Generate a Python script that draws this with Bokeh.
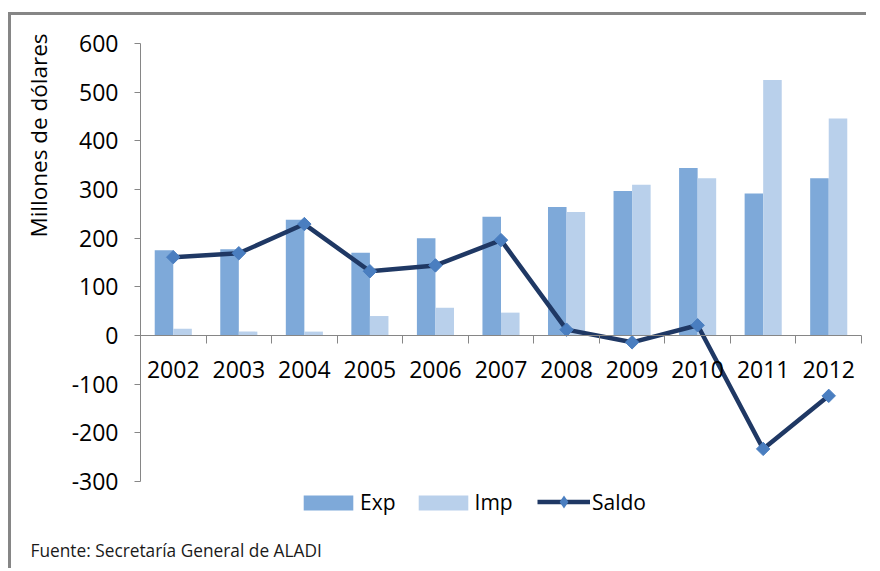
import numpy as np
from bokeh.plotting import figure
from bokeh.models import (Range1d, LinearAxis, FixedTicker, Legend, LegendItem,
                          Label, ColumnDataSource)
from bokeh.transform import dodge
from bokeh.embed import file_html
from bokeh.resources import INLINE

years = ["2002", "2003", "2004", "2005", "2006", "2007", "2008", "2009", "2010", "2011", "2012"]
exp_vals = [175, 177, 238, 170, 200, 244, 264, 297, 344, 292, 323]
imp_vals = [14, 8, 8, 40, 57, 47, 254, 310, 323, 525, 446]
saldo_vals = [161, 169, 229, 132, 144, 196, 12, -14, 21, -233, -124]
y_ticks = [-300, -200, -100, 0, 100, 200, 300, 400, 500, 600]

FONT = "Open Sans"
EXP_COLOR = "#7EA9D9"
IMP_COLOR = "#B9D0EB"
LINE_COLOR = "#1F3864"
MARK_COLOR = "#4A7EC0"
AXIS_COLOR = "#868686"

n = len(years)
centers = np.arange(n) + 0.5
src = ColumnDataSource(dict(x=centers, year=years, exp=exp_vals, imp=imp_vals, saldo=saldo_vals))

# layout (canvas pixels): plot area from x=129..850, y(600)=28 .. y(-300)=466
W, H = 858, 556
AX_L, AX_R, AX_T, AX_B = 129, 850, 28, 466
ux = (AX_R - AX_L) / n
uy = (AX_B - AX_T) / (y_ticks[-1] - y_ticks[0])
x_range = Range1d(-AX_L / ux, n + (W - AX_R) / ux)
y_range = Range1d(y_ticks[0] - (H - AX_B) / uy, y_ticks[-1] + AX_T / uy)

p = figure(width=W, height=H, x_range=x_range, y_range=y_range,
           output_backend="svg", toolbar_location=None,
           min_border_left=0, min_border_right=0, min_border_top=0, min_border_bottom=0)
p.styles = {"border-left": "3px solid #868686", "border-top": "3px solid #868686",
            "margin-top": "12px", "margin-left": "8px"}
p.outline_line_color = None
p.xgrid.grid_line_color = None
p.ygrid.grid_line_color = None

bw = 0.283
r_exp = p.vbar(x=dodge("x", -bw / 2), top="exp", width=bw, source=src,
               fill_color=EXP_COLOR, line_color=None)
r_imp = p.vbar(x=dodge("x", bw / 2), top="imp", width=bw, source=src,
               fill_color=IMP_COLOR, line_color=None)
r_line = p.line(x="x", y="saldo", source=src, line_color=LINE_COLOR, line_width=4.5)
# diamond (used for the legend swatch), covered exactly by the rotated squares
r_dia = p.scatter(x="x", y="saldo", source=src, marker="diamond", size=12,
                  fill_color=MARK_COLOR, line_color=None)
r_pts = p.scatter(x="x", y="saldo", source=src, marker="square", angle=np.pi / 4, size=9.5,
                  fill_color=MARK_COLOR, line_color=MARK_COLOR)

# y axis, fixed at x = 0
yax = p.yaxis[0]
yax.fixed_location = 0
yax.bounds = (y_ticks[0], y_ticks[-1])
yax.ticker = FixedTicker(ticks=y_ticks)
yax.major_label_overrides = {t: str(t) for t in y_ticks}
yax.axis_line_color = AXIS_COLOR
yax.major_tick_line_color = AXIS_COLOR
yax.major_tick_out = 6
yax.major_tick_in = 0
yax.minor_tick_line_color = None
yax.major_label_standoff = 16
yax.major_label_text_font = FONT
yax.major_label_text_font_size = "23px"
yax.major_label_text_color = "black"

# x axis with year labels at category centres, drawn at zero
xax = p.xaxis[0]
xax.ticker = FixedTicker(ticks=list(centers))
xax.major_label_overrides = {float(c): y for c, y in zip(centers, years)}
xax.fixed_location = 0
xax.axis_line_color = None
xax.major_tick_line_color = None
xax.minor_tick_line_color = None
xax.major_tick_out = 0
xax.major_label_standoff = 25
xax.major_label_text_font = FONT
xax.major_label_text_font_size = "23px"
xax.major_label_text_color = "black"

# tick marks between categories, also at zero
bticks = list(range(n + 1))
tax = LinearAxis(ticker=FixedTicker(ticks=bticks),
                 major_label_overrides={t: "" for t in bticks})
tax.fixed_location = 0
tax.bounds = (0, n)
tax.axis_line_color = AXIS_COLOR
tax.major_tick_line_color = AXIS_COLOR
tax.major_tick_out = 8
tax.major_tick_in = 0
tax.minor_tick_line_color = None
tax.major_label_text_font_size = "1px"
p.add_layout(tax, "below")

leg_style = dict(orientation="horizontal", padding=0, margin=0, border_line_color=None,
                 background_fill_alpha=0, label_text_font=FONT, label_text_font_size="21px",
                 label_text_color="black")
legend_bars = Legend(items=[LegendItem(label="Exp", renderers=[r_exp]),
                            LegendItem(label="Imp", renderers=[r_imp])],
                     location=(286, 55), glyph_width=62, glyph_height=19,
                     label_standoff=1, spacing=16, **leg_style)
legend_line = Legend(items=[LegendItem(label="Saldo", renderers=[r_line, r_dia])],
                     location=(526, 53), glyph_width=53, glyph_height=33,
                     label_standoff=2, spacing=0, **leg_style)
p.add_layout(legend_bars)
p.add_layout(legend_line)

p.add_layout(Label(x=27, y=436, x_units="screen", y_units="screen", text="Millones de dólares",
                   angle=np.pi / 2, text_align="center", text_baseline="middle",
                   text_font=FONT, text_font_size="22.5px", text_color="black"))
p.add_layout(Label(x=19, y=21, x_units="screen", y_units="screen",
                   text="Fuente: Secretaría General de ALADI",
                   text_align="left", text_baseline="middle",
                   text_font=FONT, text_font_size="17.3px", text_color="#1a1a1a"))

open("out.html", "w").write(file_html(p, INLINE))
